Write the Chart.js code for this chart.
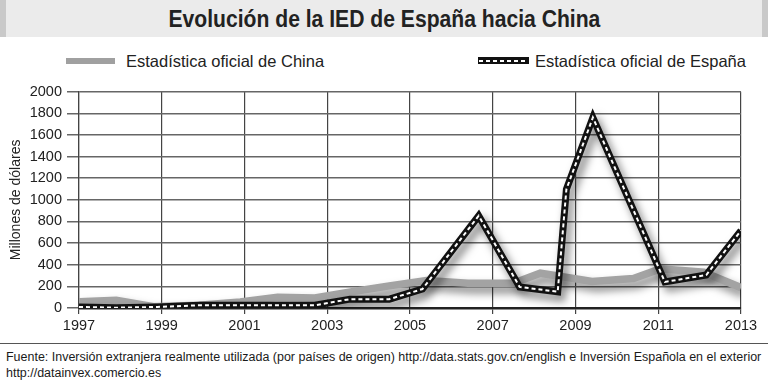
<!DOCTYPE html>
<html>
<head>
<meta charset="utf-8">
<script src="https://cdn.jsdelivr.net/npm/chart.js@4.4.1/dist/chart.umd.min.js"></script>
<style>
  html, body { margin: 0; padding: 0; background: #fff; }
  #wrap { position: relative; width: 768px; height: 384px; overflow: hidden; background: #fff; font-family: "Liberation Sans", Arial, sans-serif; color: #222; }
  #title { position: absolute; left: 0; top: 0; width: 768px; height: 37px; box-sizing: border-box;
           background: #ebebeb; border-left: 6px solid #c9c9c9; border-right: 6px solid #c9c9c9;
           text-align: center; font: bold 24px "Liberation Sans Narrow", "Liberation Sans", sans-serif; line-height: 37px; color: #222; }
  #title span { display: inline-block; transform: scaleX(0.88); transform-origin: center; }
  .lgline { position: absolute; }
  .lgtext { position: absolute; font-size: 16.5px; line-height: 20px; color: #222; white-space: nowrap; }
  #sampleChina { left: 66px; top: 57.5px; width: 49px; height: 6px; background: #a0a0a0; }
  #sampleSpain { left: 478px; top: 57px; width: 51px; height: 7px; background: #111; }
  #sampleSpain div { position: absolute; left: 1px; right: 1px; top: 2.5px; height: 2px;
           background: repeating-linear-gradient(90deg, #fff 0 4px, transparent 4px 7px); }
  #chartBox { position: absolute; left: 0; top: 78px; width: 768px; height: 262px; }
  #footLine { position: absolute; left: 0; top: 343px; width: 768px; height: 1px; background: #555; }
  .foot { position: absolute; left: 6px; white-space: nowrap; font-family: "Liberation Sans Narrow", "Liberation Sans", sans-serif; font-size: 13px; line-height: 15px; color: #1a1a1a; }
</style>
</head>
<body>
<div id="wrap">
  <div id="title"><span>Evolución de la IED de España hacia China</span></div>
  <div id="sampleChina" class="lgline"></div>
  <div class="lgtext" style="left:126px; top:50.5px;">Estadística oficial de China</div>
  <div id="sampleSpain" class="lgline"><div></div></div>
  <div class="lgtext" style="left:535px; top:50.5px;">Estadística oficial de España</div>
  <div id="chartBox"><canvas id="c" width="768" height="262"></canvas></div>
  <div id="footLine"></div>
  <div class="foot" id="foot1" style="top:350px;">Fuente: Inversión extranjera realmente utilizada (por países de origen) http://data.stats.gov.cn/english e Inversión Española en el exterior</div>
  <div class="foot" style="top:366px;">http://datainvex.comercio.es</div>
</div>
<script>
// ---- data ----
const chinaLabel = "Estadística oficial de China";
const spainLabel = "Estadística oficial de España";
const chinaYears  = [1997, 1997.9, 1998.8, 1999.9, 2000.9, 2001.8, 2002.7, 2003.6, 2004.5, 2005.4, 2006.4, 2007.5, 2008.15, 2009.4, 2010.4, 2011.05, 2012.1, 2013];
const chinaValues = [58, 72, 12, 25, 55, 100, 92, 150, 205, 255, 228, 228, 322, 245, 272, 362, 330, 188];
const spainYears  = [1997, 1997.9, 1998.9, 1999.9, 2000.9, 2001.8, 2002.7, 2003.55, 2004.5, 2005.3, 2006.66, 2007.65, 2008.57, 2008.78, 2009.42, 2011.16, 2012.16, 2013];
const spainValues = [10, 3, 10, 25, 25, 25, 25, 82, 82, 175, 853, 195, 150, 1098, 1761, 241, 305, 716];
const xTicks = [1997, 1999, 2001, 2003, 2005, 2007, 2009, 2011, 2013];
const yTicks = [0, 200, 400, 600, 800, 1000, 1200, 1400, 1600, 1800, 2000];
const yTitle = "Millones de dólares";

const pts = (xs, ys) => xs.map((x, i) => ({ x: x, y: ys[i] }));

// fit footer first line to the page width
(function(){
  const el = document.getElementById('foot1');
  const w = el.getBoundingClientRect().width;
  const target = 756;
  const fs = 13 * target / w;
  document.querySelectorAll('.foot').forEach(e => e.style.fontSize = fs.toFixed(2) + 'px');
})();

const shadowPlugin = {
  id: 'shadowPlugin',
  beforeDatasetDraw(chart, args) {
    const ds = chart.data.datasets[args.index];
    const ctx = chart.ctx;
    ctx.save();
    if (ds.shadow) {
      ctx.shadowColor = 'rgba(0,0,0,0.5)';
      ctx.shadowBlur = 9;
      ctx.shadowOffsetX = 4;
      ctx.shadowOffsetY = 6;
    }
  },
  afterDatasetDraw(chart) {
    chart.ctx.restore();
  }
};

Chart.defaults.font.family = '"Liberation Sans", Arial, sans-serif';
Chart.defaults.color = '#222';

new Chart(document.getElementById('c'), {
  type: 'line',
  data: {
    datasets: [
      { label: chinaLabel, data: pts(chinaYears, chinaValues), borderColor: '#a3a3a3', borderWidth: 7.5,
        pointRadius: 0, tension: 0, fill: false, order: 3, shadow: true },
      { label: spainLabel, data: pts(spainYears, spainValues), borderColor: '#111', borderWidth: 7,
        pointRadius: 0, tension: 0, fill: false, order: 2, shadow: true },
      { label: spainLabel + ' ', data: pts(spainYears, spainValues), borderColor: '#fff', borderWidth: 2,
        borderDash: [4, 3], pointRadius: 0, tension: 0, fill: false, order: 1, shadow: false }
    ]
  },
  options: {
    responsive: false,
    devicePixelRatio: 1,
    animation: false,
    events: [],
    layout: { padding: { top: 12, right: 27, left: 0, bottom: 0 } },
    plugins: { legend: { display: false }, tooltip: { enabled: false }, title: { display: false } },
    scales: {
      x: {
        type: 'linear', min: xTicks[0], max: xTicks[xTicks.length - 1],
        afterBuildTicks: s => { s.ticks = xTicks.map(v => ({ value: v })); },
        afterFit: s => { s.height = 32; },
        ticks: { callback: v => String(v), font: { size: 14.5 }, color: '#222', padding: 3, maxRotation: 0, autoSkip: false },
        grid: { color: '#444', lineWidth: 1.2, tickLength: 6, drawTicks: true },
        border: { color: '#222', width: 2.5 }
      },
      y: {
        min: yTicks[0], max: yTicks[yTicks.length - 1],
        afterBuildTicks: s => { s.ticks = yTicks.map(v => ({ value: v })); },
        afterFit: s => { s.width = 79; },
        ticks: { callback: v => String(v), font: { size: 14.5 }, color: '#222', padding: 5 },
        grid: { color: '#666', lineWidth: 1.5, tickLength: 12 },
        border: { color: '#444', width: 1.2 },
        title: { display: true, text: yTitle, font: { size: 14 }, color: '#222', padding: { top: 8, bottom: 0 } }
      }
    }
  },
  plugins: [shadowPlugin]
});
</script>
</body>
</html>
